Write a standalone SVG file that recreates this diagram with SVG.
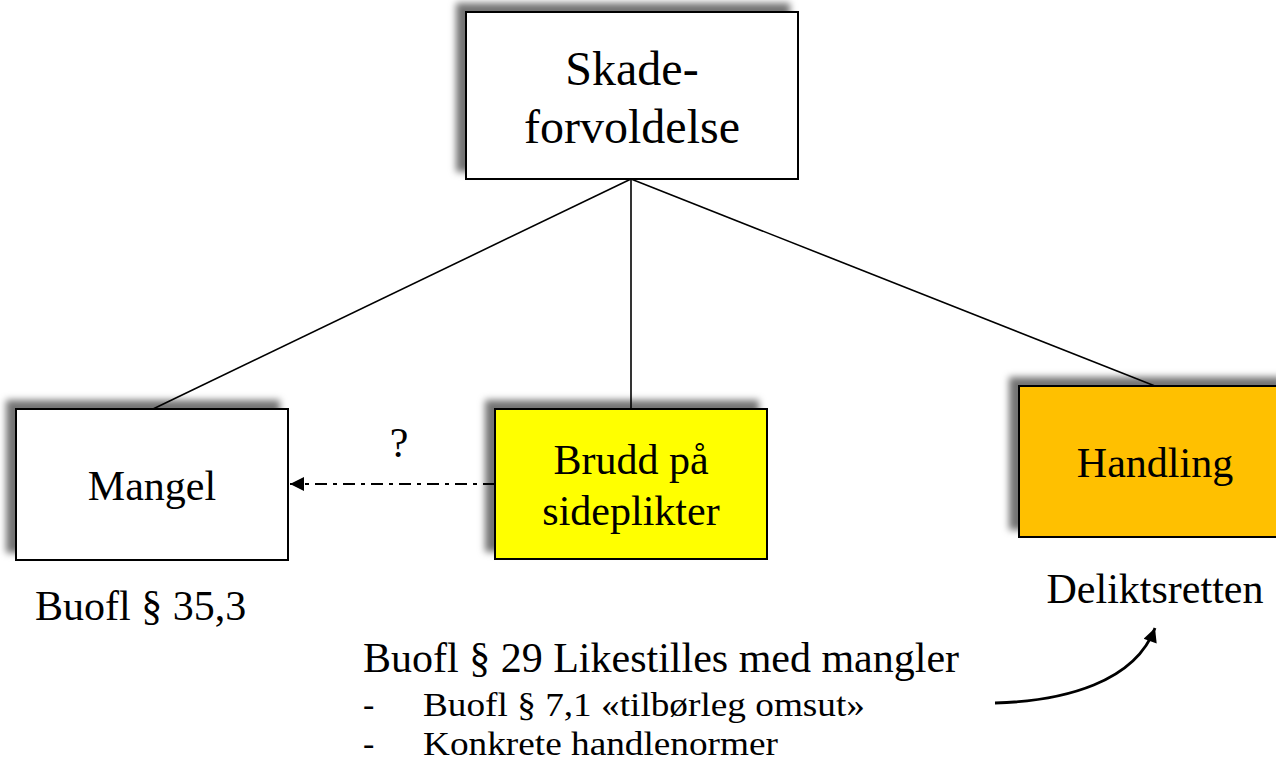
<svg xmlns="http://www.w3.org/2000/svg" width="1276" height="764" viewBox="0 0 1276 764">
<defs>
<style>
text{font-family:"Liberation Serif","Times New Roman",serif;fill:#000}
.t42{font-size:42px}
.t48{font-size:48px}
.t35{font-size:34px}
.box{stroke:#000;stroke-width:2}
.ln{stroke:#000;stroke-width:1.6;fill:none}
.dash{stroke:#000;stroke-width:2.2;fill:none;stroke-dasharray:12 6 4 6}
.curve{stroke:#000;stroke-width:2.8;fill:none}
</style>
<filter id="sh" x="-20%" y="-20%" width="140%" height="140%">
<feDropShadow dx="-9" dy="-8" stdDeviation="3.5" flood-color="#000" flood-opacity="0.55"/>
</filter>
<marker id="tri" viewBox="0 0 10 10" refX="10" refY="5" markerWidth="16" markerHeight="14" markerUnits="userSpaceOnUse" orient="auto">
<path d="M0,0 L10,5 L0,10 z" fill="#000"/>
</marker>
</defs>
<g id="connectors">
<line class="ln" x1="631" y1="179" x2="153" y2="409"/>
<line class="ln" x1="631" y1="179" x2="631" y2="409"/>
<line class="ln" x1="631" y1="179" x2="1155" y2="386"/>
<line class="dash" x1="495" y1="484" x2="290" y2="484" marker-end="url(#tri)"/>
<path class="curve" d="M995,703 C1065,701 1135,682 1155,628" marker-end="url(#tri)"/>
</g>
<g id="skadeforvoldelse">
<rect class="box" x="466" y="12" width="332" height="167" fill="#fff" filter="url(#sh)"/>
<text class="t48" x="632" y="85" text-anchor="middle">Skade-</text>
<text class="t48" x="632" y="143" text-anchor="middle">forvoldelse</text>
</g>
<g id="mangel">
<rect class="box" x="16" y="409" width="272" height="151" fill="#fff" filter="url(#sh)"/>
<text class="t42" x="152" y="500" text-anchor="middle">Mangel</text>
</g>
<g id="brudd">
<rect class="box" x="495" y="409" width="272" height="150" fill="#ffff00" filter="url(#sh)"/>
<text class="t42" x="631" y="474" text-anchor="middle">Brudd på</text>
<text class="t42" x="631" y="525" text-anchor="middle">sideplikter</text>
</g>
<g id="handling">
<rect class="box" x="1019" y="386" width="272" height="151" fill="#ffc000" filter="url(#sh)"/>
<text class="t42" x="1155" y="477" text-anchor="middle">Handling</text>
</g>
<g id="labels">
<text class="t42" x="399" y="457" text-anchor="middle">?</text>
<text class="t42" x="35" y="620">Buofl § 35,3</text>
<text class="t42" x="1155" y="603" text-anchor="middle">Deliktsretten</text>
<text class="t42" x="363" y="672">Buofl § 29 Likestilles med mangler</text>
<text class="t35" x="363" y="716">-</text>
<text class="t35" x="423" y="716" textLength="442" lengthAdjust="spacingAndGlyphs">Buofl § 7,1 «tilbørleg omsut»</text>
<text class="t35" x="363" y="755">-</text>
<text class="t35" x="423" y="755" textLength="355" lengthAdjust="spacingAndGlyphs">Konkrete handlenormer</text>
</g>
</svg>
